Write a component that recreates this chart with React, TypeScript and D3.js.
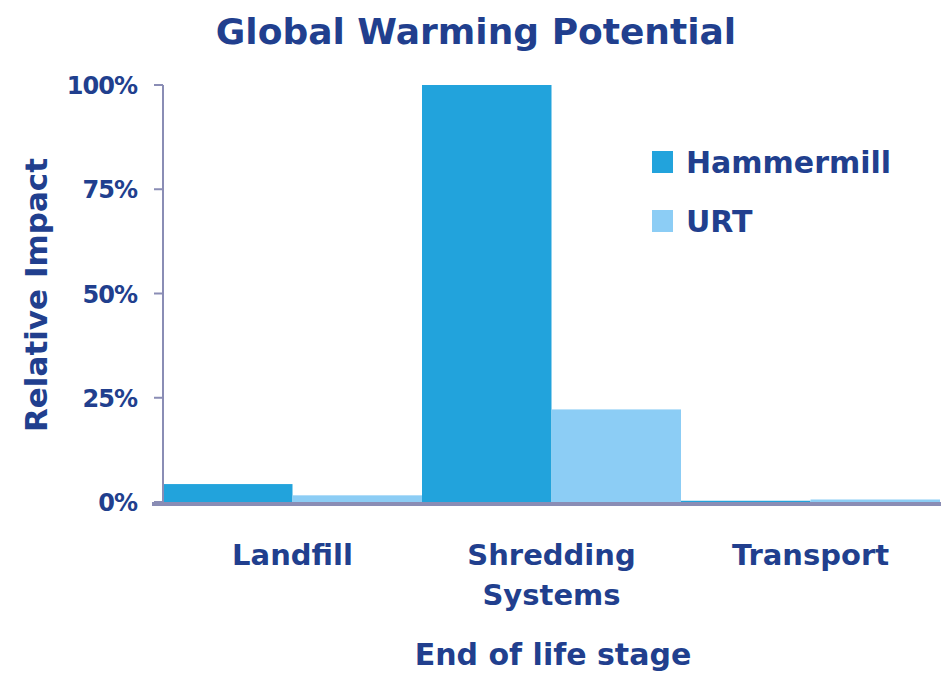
import React from "react";
import * as d3 from "d3";

const categories: string[][] = [["Landfill"], ["Shredding", "Systems"], ["Transport"]];
const categoryKeys = ["Landfill", "Shredding Systems", "Transport"];
const seriesNames = ["Hammermill", "URT"];
const hammermill = [4.3, 100, 0.3];
const urt = [1.6, 22.2, 0.6];
const yTicks = [0, 25, 50, 75, 100];
const colors = ["#22a3dc", "#8ccdf5"];

const W = 942;
const H = 675;
const left = 163;
const right = 940;
const top = 85;
const bottom = 502;
const textColor = "#213f8e";
const axisColor = "#8a8db5";

export default function App() {
  const x = d3.scaleBand<string>().domain(categoryKeys).range([left, right]).padding(0);
  const xi = d3.scaleBand<string>().domain(seriesNames).range([0, x.bandwidth()]).padding(0);
  const y = d3.scaleLinear().domain([0, 100]).range([bottom, top]);
  const values = [hammermill, urt];

  return (
    <svg width={W} height={H} style={{ position: "absolute", left: 0, top: 0, background: "#fff" }}>
      <text x={476} y={44} textAnchor="middle" fontFamily="DejaVu Sans" fontWeight="bold" fontSize={36} fill={textColor}>
        Global Warming Potential
      </text>
      {/* bars */}
      {seriesNames.map((s, si) =>
        categoryKeys.map((c, ci) => (
          <rect
            key={s + c}
            x={(x(c) ?? 0) + (xi(s) ?? 0)}
            y={y(values[si][ci])}
            width={xi.bandwidth()}
            height={y(0) - y(values[si][ci])}
            fill={colors[si]}
          />
        ))
      )}
      {/* y axis */}
      <line x1={left} x2={left} y1={y(100)} y2={y(0)} stroke={axisColor} strokeWidth={2} />
      {yTicks.map((t) => (
        <g key={t}>
          <line x1={left - 9} x2={left} y1={y(t)} y2={y(t)} stroke={axisColor} strokeWidth={2} />
          <text x={137} y={y(t) + 9} textAnchor="end" fontFamily="DejaVu Sans" fontWeight="bold" fontSize={24} fill={textColor} letterSpacing={-1}>
            {t + "%"}
          </text>
        </g>
      ))}
      {/* x axis baseline */}
      <line x1={152} x2={941} y1={y(0) + 2} y2={y(0) + 2} stroke={axisColor} strokeWidth={4} />
      {categoryKeys.map((c, ci) => (
        <text key={c} textAnchor="middle" fontFamily="DejaVu Sans" fontWeight="bold" fontSize={29} fill={textColor}>
          {categories[ci].map((line, li) => (
            <tspan key={li} x={(x(c) ?? 0) + x.bandwidth() / 2} y={565 + li * 40}>
              {line}
            </tspan>
          ))}
        </text>
      ))}
      <text x={553} y={665} textAnchor="middle" fontFamily="DejaVu Sans" fontWeight="bold" fontSize={30} fill={textColor}>
        End of life stage
      </text>
      <text transform="translate(47,295) rotate(-90)" textAnchor="middle" fontFamily="DejaVu Sans" fontWeight="bold" fontSize={31} fill={textColor}>
        Relative Impact
      </text>
      {/* legend */}
      {seriesNames.map((s, si) => (
        <g key={s}>
          <rect x={652} y={151 + si * 59} width={21} height={22} fill={colors[si]} />
          <text x={686} y={173 + si * 59} fontFamily="DejaVu Sans" fontWeight="bold" fontSize={30} fill={textColor}>
            {s}
          </text>
        </g>
      ))}
    </svg>
  );
}
